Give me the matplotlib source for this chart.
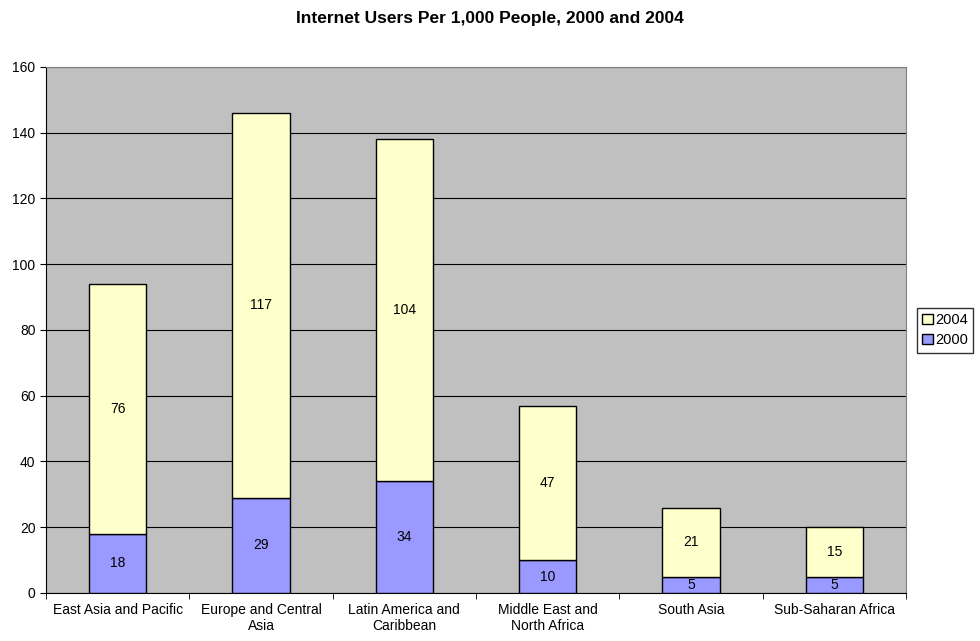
import numpy as np
import matplotlib
matplotlib.use("Agg")
import matplotlib.pyplot as plt
from matplotlib.patches import Patch

plt.rcParams['font.family'] = ['Liberation Sans', 'DejaVu Sans']

regions = ["East Asia and Pacific", "Europe and Central\nAsia", "Latin America and\nCaribbean",
           "Middle East and\nNorth Africa", "South Asia", "Sub-Saharan Africa"]
users_2000 = [18, 29, 34, 10, 5, 5]
users_2004_added = [76, 117, 104, 47, 21, 15]

fig = plt.figure(figsize=(9.8, 6.41), dpi=100)
ax = fig.add_axes([0.0469, 0.0749, 0.8776, 0.8206])
ax.set_facecolor("#C0C0C0")

x = np.arange(len(regions))
b1 = ax.bar(x, users_2000, width=0.4, color="#9999FF", edgecolor="black", linewidth=1, zorder=3)
b2 = ax.bar(x, users_2004_added, width=0.4, bottom=users_2000, color="#FFFFCC",
            edgecolor="black", linewidth=1, zorder=3)

for rect, v in zip(b1, users_2000):
    ax.text(rect.get_x() + rect.get_width() / 2, rect.get_y() + rect.get_height() / 2, str(v),
            ha="center", va="center", fontsize=10, zorder=4)
for rect, v in zip(b2, users_2004_added):
    ax.text(rect.get_x() + rect.get_width() / 2, rect.get_y() + rect.get_height() / 2, str(v),
            ha="center", va="center", fontsize=10, zorder=4)

ax.set_xlim(-0.5, len(regions) - 0.5)
ax.set_ylim(0, 160)
ax.set_yticks(np.arange(0, 161, 20))
ax.yaxis.grid(True, color="black", linewidth=0.8, zorder=1)
ax.set_axisbelow(True)

ax.set_xticks(x)
ax.set_xticklabels(regions, fontsize=10)
ax.set_xticks(np.arange(-0.5, len(regions), 1), minor=True)
ax.tick_params(axis="x", which="major", length=0, pad=7)
ax.tick_params(axis="x", which="minor", length=4, direction="out")
ax.tick_params(axis="y", labelsize=10, length=4, direction="out")

for side in ["top", "right"]:
    ax.spines[side].set_color("#808080")
for side in ["left", "bottom"]:
    ax.spines[side].set_color("black")

fig.text(0.5, 0.971, "Internet Users Per 1,000 People, 2000 and 2004", fontsize=12.5,
         fontweight="bold", ha="center", va="center")

handles = [Patch(facecolor="#FFFFCC", edgecolor="black", label="2004"),
           Patch(facecolor="#9999FF", edgecolor="black", label="2000")]
fig.legend(handles=handles, loc="center left", bbox_to_anchor=(0.936, 0.485), fontsize=10.5,
           frameon=True, fancybox=False, edgecolor="black", handlelength=0.7, handleheight=0.7,
           handletextpad=0.2, borderpad=0.35, labelspacing=0.45, borderaxespad=0)

fig.savefig("out.png", dpi=100)
